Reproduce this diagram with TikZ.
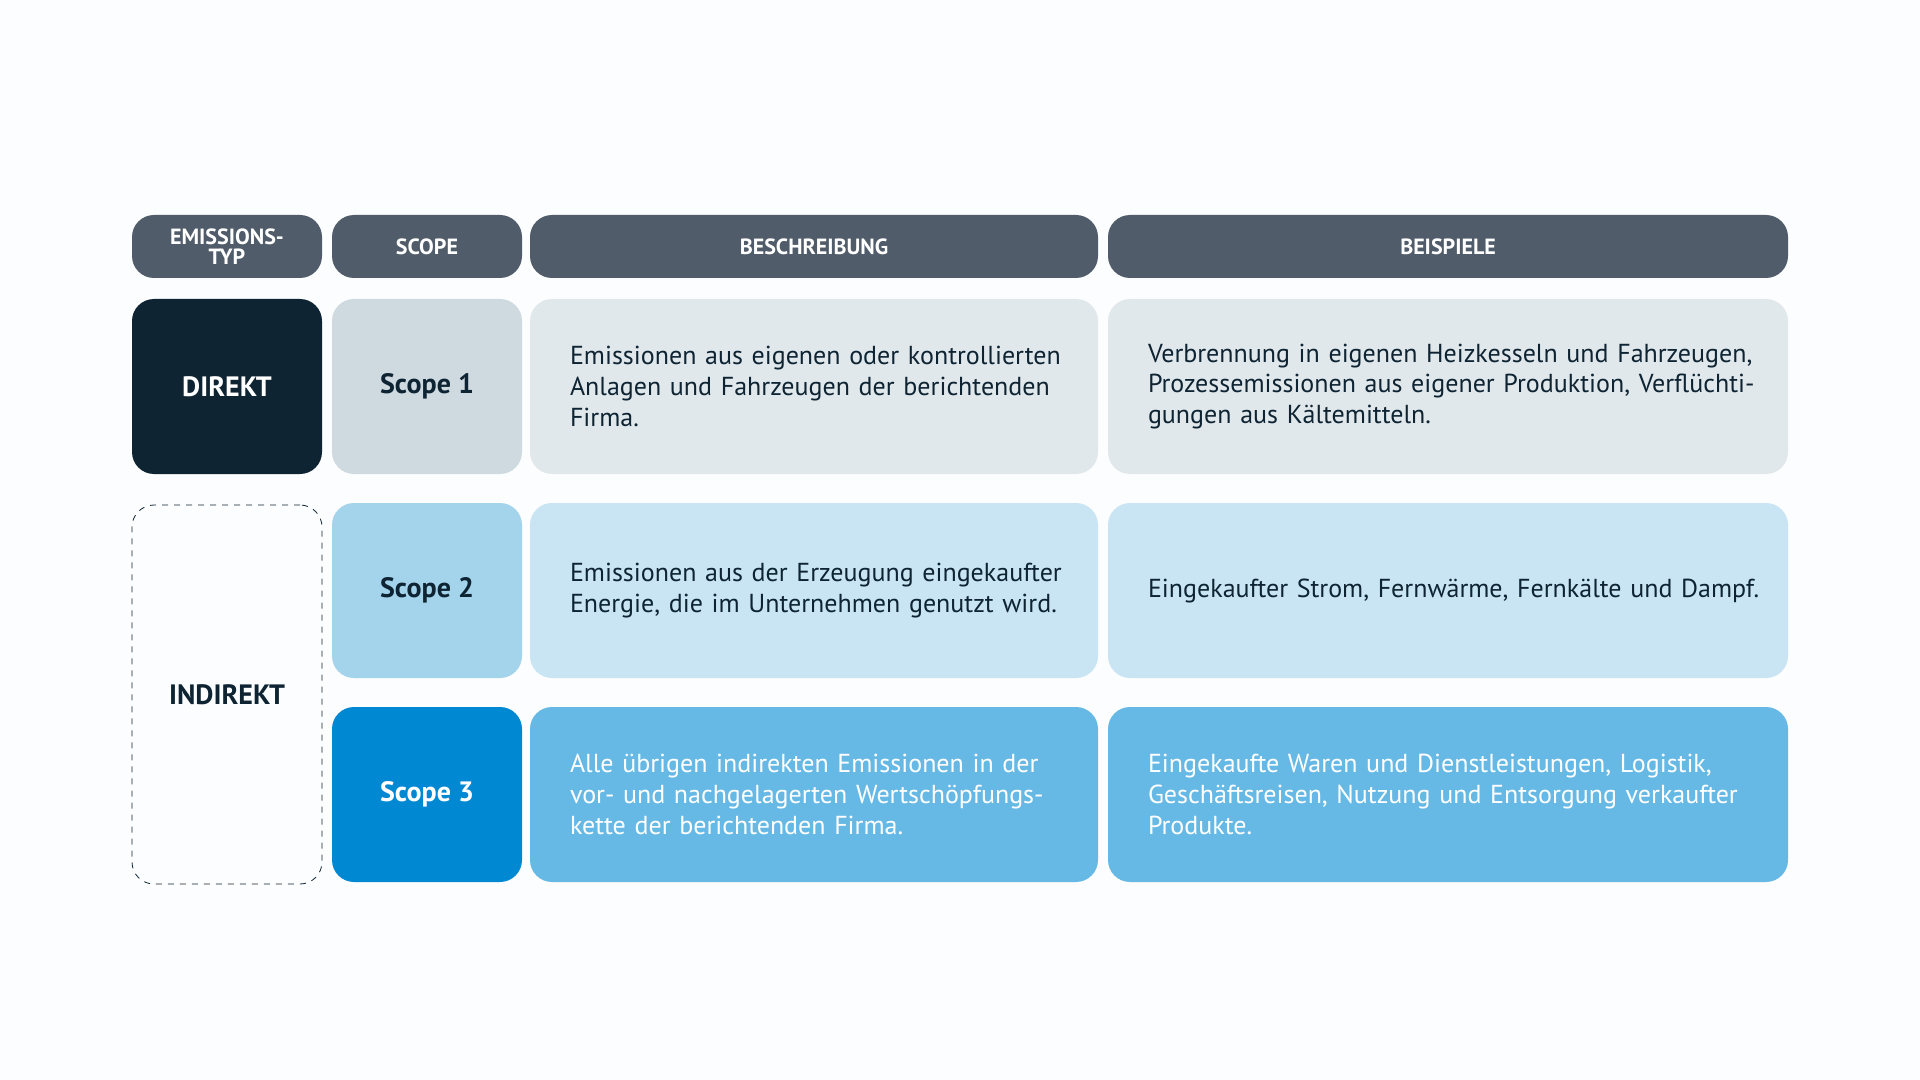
\documentclass[tikz,border=0pt]{standalone}
\usepackage{fontspec}
\setmainfont{PT Sans}
\definecolor{hdr}{HTML}{505C69}
\definecolor{navy}{HTML}{0E2433}
\definecolor{sa}{HTML}{CED9E0}
\definecolor{da}{HTML}{E1E8EC}
\definecolor{sb}{HTML}{A3D4EC}
\definecolor{db}{HTML}{C9E5F3}
\definecolor{sc}{HTML}{0088D3}
\definecolor{dc}{HTML}{66B9E5}
\definecolor{bg}{HTML}{FCFDFE}
\begin{document}
\begin{tikzpicture}[
    x=0.5pt, y=-0.5pt,
    cell/.style={rounded corners=11pt, inner sep=0pt},
    head/.style={cell, fill=hdr, text=white, font=\bfseries\fontsize{11}{12}\selectfont, align=center},
    tag/.style={cell, font=\bfseries\fontsize{14}{16}\selectfont, align=center},
    body/.style={cell, align=left, font=\fontsize{13}{15.3}\selectfont, text width=#1}
]
\fill[bg] (0,0) rectangle (1920,1080);
% header
\node[head, minimum width=95pt, minimum height=31.5pt] (hA) at (227,246.5) {EMISSIONS-\\[-2pt]TYP};
\node[head, minimum width=95pt, minimum height=31.5pt] (hB) at (427,246.5) {SCOPE};
\node[head, minimum width=284pt, minimum height=31.5pt] (hC) at (814,246.5) {BESCHREIBUNG};
\node[head, minimum width=340pt, minimum height=31.5pt] (hD) at (1448,246.5) {BEISPIELE};
% scope 1
\node[tag, fill=navy, text=white, minimum width=95pt, minimum height=87.5pt] (direkt) at (227,386.5) {DIREKT};
\node[tag, fill=sa, text=navy, minimum width=95pt, minimum height=87.5pt] (s1) at (427,386.5) {Scope 1};
\node[cell, fill=da, minimum width=284pt, minimum height=87.5pt] (d1) at (814,386.5) {};
\node[body=250pt, text=navy, anchor=west] at ([xshift=20pt]d1.west) {Emissionen aus eigenen oder kontrollierten Anlagen und Fahrzeugen der berichtenden Firma.};
\node[cell, fill=da, minimum width=340pt, minimum height=87.5pt] (b1) at (1448,386.5) {};
\node[body=310pt, text=navy, anchor=west] at ([xshift=20pt]b1.west) {Verbrennung in eigenen Heizkesseln und Fahrzeugen, Prozessemissionen aus eigener Produktion, Verflüchtigungen aus Kältemitteln.};
% scope 2 / 3
\node[tag, draw=navy, dashed, text=navy, minimum width=95pt, minimum height=189.5pt] (indirekt) at (227,694.5) {INDIREKT};
\node[tag, fill=sb, text=navy, minimum width=95pt, minimum height=87.5pt] (s2) at (427,590.5) {Scope 2};
\node[cell, fill=db, minimum width=284pt, minimum height=87.5pt] (d2) at (814,590.5) {};
\node[body=250pt, text=navy, anchor=west] at ([xshift=20pt]d2.west) {Emissionen aus der Erzeugung eingekaufter Energie, die im Unternehmen genutzt wird.};
\node[cell, fill=db, minimum width=340pt, minimum height=87.5pt] (b2) at (1448,590.5) {};
\node[body=310pt, text=navy, anchor=west] at ([xshift=20pt]b2.west) {Eingekaufter Strom, Fernwärme, Fernkälte und Dampf.};
\node[tag, fill=sc, text=white, minimum width=95pt, minimum height=87.5pt] (s3) at (427,794.5) {Scope 3};
\node[cell, fill=dc, minimum width=284pt, minimum height=87.5pt] (d3) at (814,794.5) {};
\node[body=250pt, text=white, anchor=west] at ([xshift=20pt]d3.west) {Alle übrigen indirekten Emissionen in der vor- und nachgelagerten Wertschöpfungskette der berichtenden Firma.};
\node[cell, fill=dc, minimum width=340pt, minimum height=87.5pt] (b3) at (1448,794.5) {};
\node[body=310pt, text=white, anchor=west] at ([xshift=20pt]b3.west) {Eingekaufte Waren und Dienstleistungen, Logistik, Geschäftsreisen, Nutzung und Entsorgung verkaufter Produkte.};
\end{tikzpicture}
\end{document}
